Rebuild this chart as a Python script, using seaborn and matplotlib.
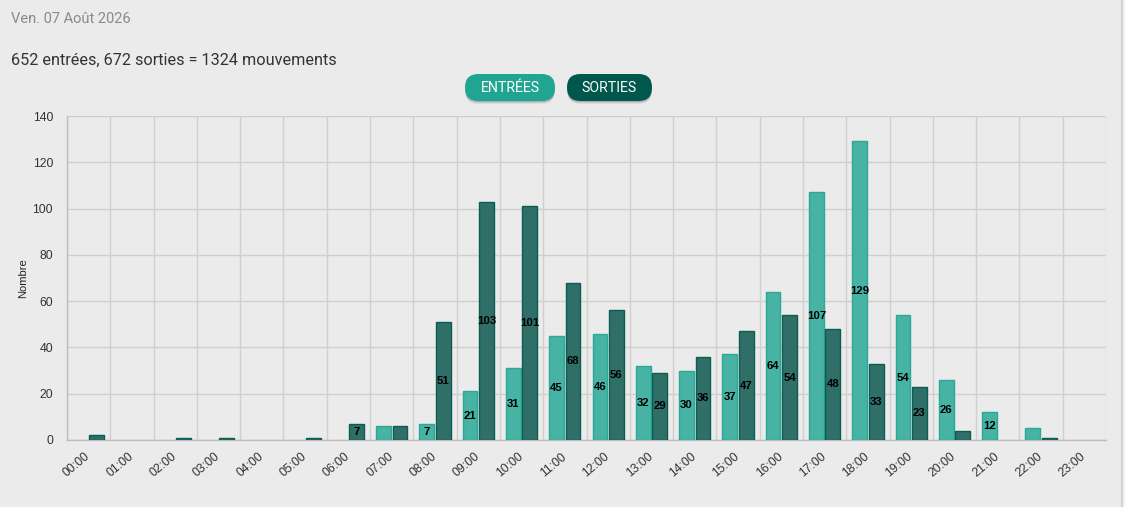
import matplotlib
matplotlib.use("Agg")
import matplotlib.pyplot as plt
from matplotlib.patches import FancyBboxPatch, Rectangle
import seaborn as sns
import pandas as pd

# ---- data ----
hours = [f"{h:02d}:00" for h in range(24)]
entrees = [0, 0, 0, 0, 0, 0, 0, 6, 7, 21, 31, 45, 46, 32, 30, 37, 64, 107, 129, 54, 26, 12, 5, 0]
sorties = [2, 0, 1, 1, 0, 1, 7, 6, 51, 103, 101, 68, 56, 29, 36, 47, 54, 48, 33, 23, 4, 0, 1, 0]
series_names = ["Entrées", "Sorties"]
date_label = "Ven. 07 Août 2026"
summary = f"{sum(entrees)} entrées, {sum(sorties)} sorties = {sum(entrees) + sum(sorties)} mouvements"
y_ticks = [0, 20, 40, 60, 80, 100, 120, 140]

df = pd.DataFrame({
    "heure": hours * 2,
    "nombre": entrees + sorties,
    "type": [series_names[0]] * len(hours) + [series_names[1]] * len(hours),
})

# ---- style ----
BG = "#ebebeb"
FILL = {"Entrées": "#47b3a4", "Sorties": "#2f6f67"}
EDGE = {"Entrées": "#2aa898", "Sorties": "#0b5d52"}
BTN = {"Entrées": "#21a593", "Sorties": "#00574b"}
GRID = "#cfcfcf"
AXIS = "#bdbdbd"
LABEL_MIN = 7

sns.set_style("white")
plt.rcParams["font.family"] = ["Liberation Sans", "DejaVu Sans"]

W, H = 1125, 507
fig = plt.figure(figsize=(W / 100, H / 100), dpi=100, facecolor=BG)
L, R, T, B = 67, 1106, 116, 440
ax = fig.add_axes([L / W, (H - B) / H, (R - L) / W, (B - T) / H])
ax.set_facecolor(BG)

sns.barplot(data=df, x="heure", y="nombre", hue="type", palette=FILL,
            saturation=1, width=0.76, gap=0.1, legend=False, ax=ax,
            linewidth=1, edgecolor="none", zorder=3)

for cont, name in zip(ax.containers, series_names):
    for p in cont.patches:
        if p.get_height() > 0:
            p.set_edgecolor(EDGE[name])
            p.set_linewidth(1)
        else:
            p.set_linewidth(0)
    vals = [int(round(p.get_height())) for p in cont.patches]
    ax.bar_label(cont, labels=[str(v) if v >= LABEL_MIN else "" for v in vals],
                 label_type="center", fontsize=8.2, fontweight="bold", color="black", zorder=5)

ax.set_xlim(-0.5, len(hours) - 0.5)
ax.set_ylim(0, 140)
ax.set_yticks(y_ticks)

ax.set_xticks(range(len(hours)))
ax.set_xticklabels(hours, rotation=40, ha="right", va="center", rotation_mode="anchor")
ax.set_xticks([i - 0.5 for i in range(len(hours) + 1)], minor=True)
ax.tick_params(axis="x", which="major", length=0, pad=11, labelsize=8.8, labelcolor="#333333")
ax.tick_params(axis="x", which="minor", length=7, color=GRID, width=1)
ax.tick_params(axis="y", which="major", length=8, color=GRID, width=1, pad=2,
               labelsize=8.8, labelcolor="#333333")

ax.grid(axis="x", which="minor", color=GRID, linewidth=1, zorder=0)
ax.grid(axis="y", which="major", color=GRID, linewidth=1, zorder=0)
ax.grid(axis="x", which="major", visible=False)
ax.set_axisbelow(True)

for s in ["top", "right"]:
    ax.spines[s].set_visible(False)
for s in ["left", "bottom"]:
    ax.spines[s].set_color(AXIS)
    ax.spines[s].set_linewidth(1)

ax.set_xlabel("")
ax.set_ylabel("Nombre", fontsize=8, color="#222222")
ax.yaxis.set_label_coords(-0.0375, 0.5)

# ---- header ----
fig.text(11 / W, 1 - 19 / H, date_label, fontsize=10.5, color="#8a8a8a",
         va="center", ha="left", family=["Roboto", "DejaVu Sans"])
fig.text(11 / W, 1 - 60 / H, summary, fontsize=11.7, color="#333333",
         va="center", ha="left", family=["Roboto", "DejaVu Sans"])

ov = fig.add_axes([0, 0, 1, 1], zorder=-1)
ov.set_xlim(0, W)
ov.set_ylim(H, 0)
ov.axis("off")
ov.patch.set_alpha(0)

buttons = [("ENTRÉES", 465, 90, BTN["Entrées"]), ("SORTIES", 567, 85, BTN["Sorties"])]
for text, x0, w, col in buttons:
    for k, a in [(3, 0.06), (2, 0.10), (1, 0.12)]:
        ov.add_patch(FancyBboxPatch((x0, 74 + k), w, 27, boxstyle="round,pad=0,rounding_size=13.5",
                                    facecolor="black", edgecolor="none", alpha=a))
    ov.add_patch(FancyBboxPatch((x0, 74), w, 27, boxstyle="round,pad=0,rounding_size=13.5",
                                facecolor=col, edgecolor="none"))
    ov.text(x0 + w / 2, 87.5, text, color="white", fontsize=10.2, ha="center", va="center",
            family=["Roboto", "DejaVu Sans"], fontweight="normal")

ov.add_patch(Rectangle((1121, 0), 2, H, facecolor="#d3d3d3", edgecolor="none"))
ov.add_patch(Rectangle((1123, 0), 2, H, facecolor="#f2f2f2", edgecolor="none"))

fig.savefig("out.png", dpi=100, facecolor=BG)
